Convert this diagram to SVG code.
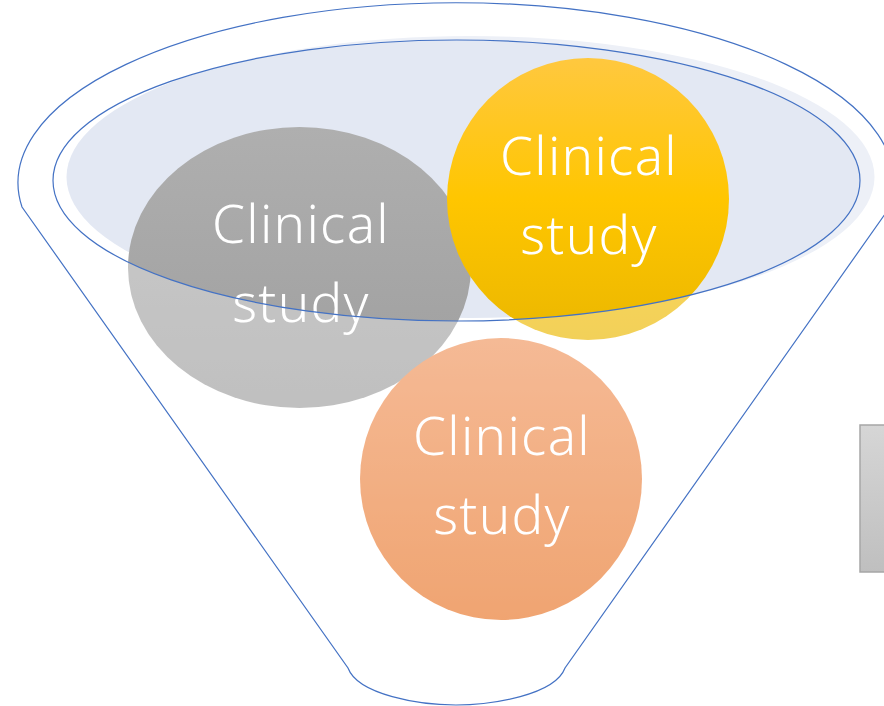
<svg xmlns="http://www.w3.org/2000/svg" width="884" height="706" viewBox="0 0 884 706">
  <style>
    .lbl { font-family: "Noto Sans", "Noto Sans CJK JP", "Liberation Sans", sans-serif; font-size: 53px; font-weight: 300; fill: #FFFFFF; text-anchor: middle; letter-spacing: 1.3px; }
    .edge { fill: none; stroke: #4472C4; stroke-width: 1.2; }
  </style>
  <defs>
    <linearGradient id="gGray" x1="0" y1="0" x2="0" y2="1">
      <stop offset="0" stop-color="#AFAFAF"/>
      <stop offset="1" stop-color="#9E9E9E"/>
    </linearGradient>
    <linearGradient id="gGold" x1="0" y1="0" x2="0" y2="1">
      <stop offset="0" stop-color="#FFC83F"/>
      <stop offset="0.5" stop-color="#FFC600"/>
      <stop offset="1" stop-color="#EBB700"/>
    </linearGradient>
    <linearGradient id="gOrange" x1="0" y1="0" x2="0" y2="1">
      <stop offset="0" stop-color="#F0955D"/>
      <stop offset="1" stop-color="#E87426"/>
    </linearGradient>
    <linearGradient id="gBox" x1="0" y1="0" x2="0" y2="1">
      <stop offset="0" stop-color="#D6D6D6"/>
      <stop offset="1" stop-color="#BFBFBF"/>
    </linearGradient>
  </defs>
  <rect width="884" height="706" fill="#FFFFFF"/>

  <g id="funnel-top-fill">
    <ellipse cx="470.5" cy="177" rx="404" ry="141" fill="#E3E8F3"/>
  </g>

  <g id="study-gray">
    <ellipse cx="299.5" cy="267.5" rx="171.5" ry="140.5" fill="url(#gGray)"/>
    <text class="lbl" x="301" y="243">Clinical</text>
    <text class="lbl" x="301" y="322">study</text>
  </g>
  <g id="study-gold">
    <ellipse cx="588" cy="199" rx="141" ry="141" fill="url(#gGold)"/>
    <text class="lbl" x="589" y="175">Clinical</text>
    <text class="lbl" x="589" y="254">study</text>
  </g>
  <g id="study-orange">
    <ellipse cx="501" cy="479" rx="141" ry="141" fill="url(#gOrange)"/>
    <text class="lbl" x="502" y="455">Clinical</text>
    <text class="lbl" x="502" y="534">study</text>
  </g>

  <g id="funnel-body">
    <path fill="#FFFFFF" fill-opacity="0.35" fill-rule="evenodd"
      d="M0,0 H884 V706 H0 Z M53,180.5 A403.5,140.5 0 1 0 860,180.5 A403.5,140.5 0 1 0 53,180.5 Z"/>
    <ellipse class="edge" cx="456.5" cy="180.5" rx="403.5" ry="140.5"/>
    <path class="edge" d="M22,207 A438,180 0 1 1 890,207 L565,668 C555,695 492,705 456,705 C420,705 358,695 348,668 Z"/>
  </g>

  <g id="side-box">
    <rect x="860" y="425" width="30" height="147" fill="url(#gBox)" stroke="#A6A6A6" stroke-width="1.5"/>
  </g>
</svg>
